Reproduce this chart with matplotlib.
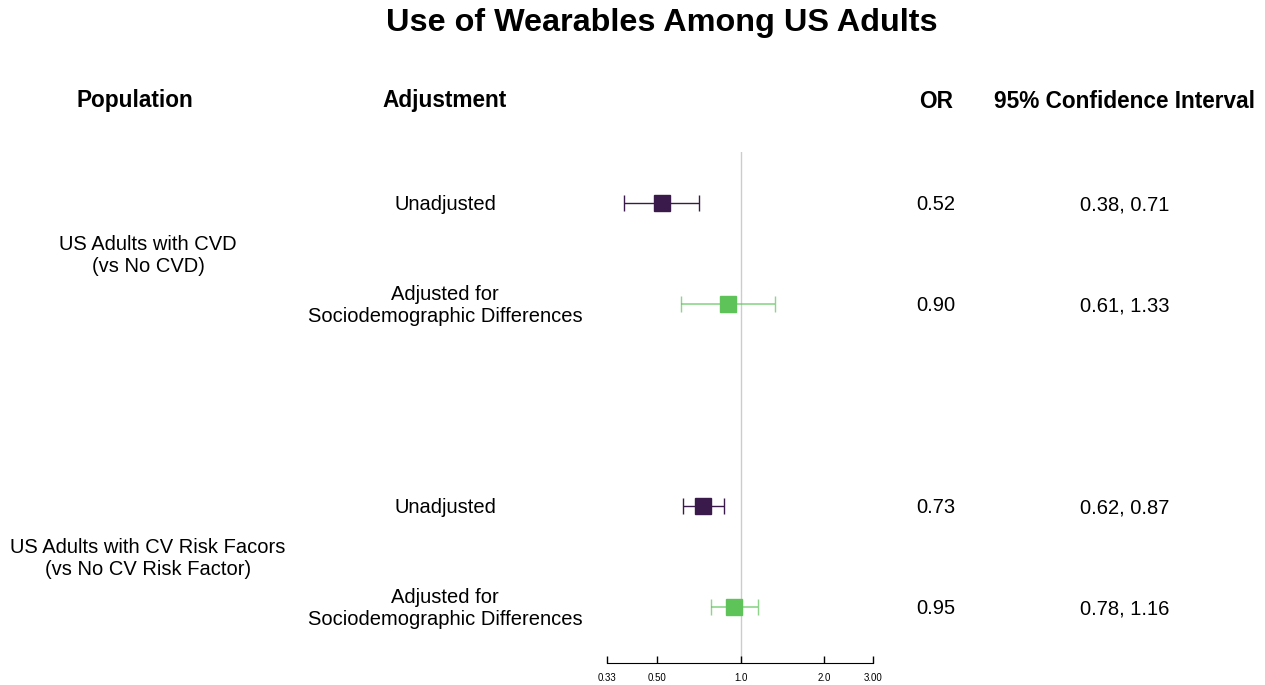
import matplotlib.pyplot as plt
import matplotlib.transforms as mtransforms

plt.rcParams['font.family'] = ['Liberation Sans', 'DejaVu Sans']

populations = ["US Adults with CVD\n(vs No CVD)",
               "US Adults with CV Risk Facors\n(vs No CV Risk Factor)"]
adjustments = ["Unadjusted", "Adjusted for\nSociodemographic Differences",
               "Unadjusted", "Adjusted for\nSociodemographic Differences"]
odds = [0.52, 0.90, 0.73, 0.95]
lower = [0.38, 0.61, 0.62, 0.78]
upper = [0.71, 1.33, 0.87, 1.16]
ticks = [0.33, 0.50, 1.0, 2.0, 3.00]
tick_labels = ["0.33", "0.50", "1.0", "2.0", "3.00"]

rows = [1, 2, 4, 5]
pop_rows = [1.5, 4.5]
colors = ["#3a1a4b", "#5ec45a", "#3a1a4b", "#5ec45a"]

W, H = 1265, 685
fig = plt.figure(figsize=(W / 100, H / 100), dpi=100)
ax = fig.add_axes([607 / W, 1 - 663 / H, (873 - 607) / W, (663 - 152) / H])
ax.set_xscale("log")
ax.set_xlim(0.33, 3.0)
ax.set_ylim(0.5 + 511 / 101, 0.5)

ax.axvline(1.0, color="#cccccc", lw=1, zorder=0)
for y, o, lo, hi, c in zip(rows, odds, lower, upper, colors):
    dark = c == "#3a1a4b"
    ax.errorbar(o, y, xerr=[[o - lo], [hi - o]], fmt="none", ecolor=c,
                elinewidth=1 if dark else 1.2, capsize=6,
                capthick=1, alpha=1 if dark else 0.7)
    ax.plot(o, y, marker="s", ms=12, color=c, mec=c, ls="none")

for s in ["top", "right", "left"]:
    ax.spines[s].set_visible(False)
ax.spines["bottom"].set_bounds(0.33, 3.0)
ax.set_yticks([])
ax.set_xticks(ticks)
ax.set_xticklabels(tick_labels, fontsize=7)
ax.minorticks_off()
ax.tick_params(axis="x", direction="in", length=5, width=1, pad=7)

# text columns: x in figure pixels, y in row units
tr = mtransforms.blended_transform_factory(fig.transFigure, ax.transData)
dy = 0.02
for y, a in zip(rows, adjustments):
    ax.text(445 / W, y + dy, a, transform=tr, ha="center", va="center",
            fontsize=14.5, linespacing=1.2, clip_on=False)
for y, o, lo, hi in zip(rows, odds, lower, upper):
    ax.text(936 / W, y + dy, f"{o:.2f}", transform=tr, ha="center",
            va="center", fontsize=14.5, clip_on=False)
    ax.text(1125 / W, y + dy, f"{lo:.2f}, {hi:.2f}", transform=tr,
            ha="center", va="center", fontsize=14.5, clip_on=False)
for y, p in zip(pop_rows, populations):
    ax.text(148 / W, y + dy, p, transform=tr, ha="center", va="center",
            fontsize=14.5, linespacing=1.2, clip_on=False)

hy = 1 - 101 / H
fig.text(135 / W, hy, "Population", ha="center", va="center",
         fontsize=16.3, fontweight="bold")
fig.text(445 / W, hy, "Adjustment", ha="center", va="center",
         fontsize=16.3, fontweight="bold")
fig.text(936 / W, hy, "OR", ha="center", va="center",
         fontsize=16.3, fontweight="bold")
fig.text(1125 / W, hy, "95% Confidence Interval", ha="center",
         va="center", fontsize=16.3, fontweight="bold")
fig.text(662 / W, 1 - 23 / H, "Use of Wearables Among US Adults",
         ha="center", va="center", fontsize=23.3, fontweight="bold")

fig.savefig("out.png", dpi=100)
